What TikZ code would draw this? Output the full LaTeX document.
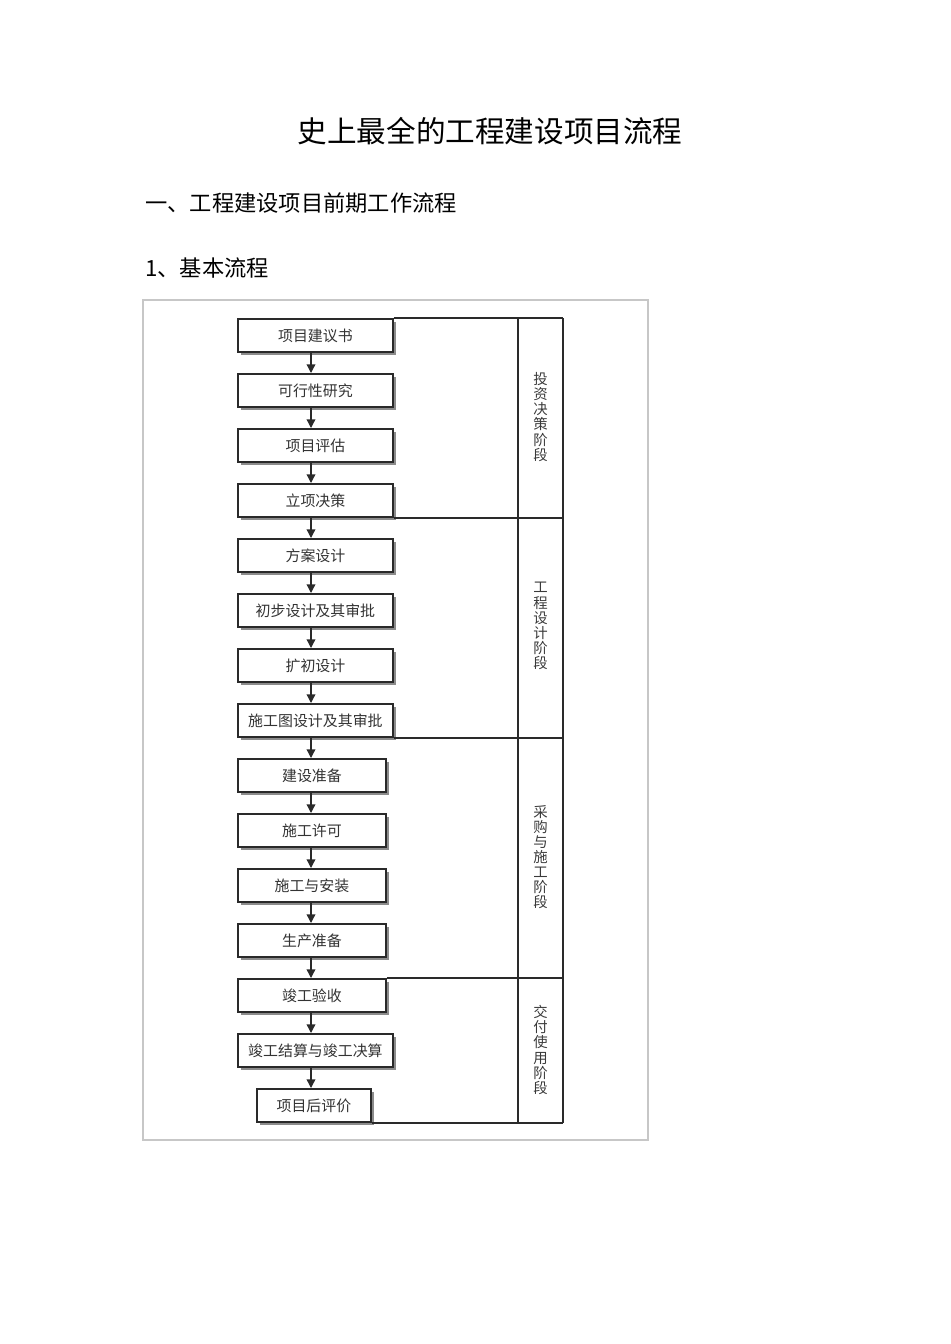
\documentclass[tikz,border=0pt]{standalone}
\usepackage{fontspec}
\newfontfamily\cjk{Noto Sans CJK SC}
\usetikzlibrary{arrows.meta,shadows}
\definecolor{boxline}{HTML}{2A2A2A}
\definecolor{boxtext}{HTML}{333333}
\definecolor{lanetext}{HTML}{3A3A3A}
\tikzset{
  stepbox/.style={draw=boxline, line width=1.4pt, fill=white, anchor=north west,
    minimum height=24.75pt, inner sep=0pt, text=boxtext,
    font=\cjk\fontsize{11.2pt}{12pt}\selectfont,
    drop shadow={shadow xshift=2.2pt, shadow yshift=-2.2pt, fill=black!45, opacity=1}},
  wide/.style={stepbox, minimum width=116.25pt},
  mid/.style={stepbox, minimum width=111pt},
  narrow/.style={stepbox, minimum width=85.5pt},
  arr/.style={draw=boxline, line width=1pt, -{Triangle[length=6.5pt,width=6.5pt]}},
  lane/.style={draw=boxline, line width=1pt},
  lanelabel/.style={align=center, text=lanetext, inner sep=0pt,
    font=\cjk\fontsize{10.8pt}{11.3pt}\selectfont},
}
\begin{document}
\begin{tikzpicture}[x=0.75pt, y=-0.75pt]
\useasboundingbox (0,0) rectangle (950,1344);
% titles
\node[font=\cjk\fontsize{22.2pt}{24pt}\selectfont, inner sep=0pt] (title) at (490,131) {史上最全的工程建设项目流程};
\node[font=\cjk\fontsize{16.7pt}{18pt}\selectfont, anchor=west, inner sep=0pt] (h1) at (145,203) {一、工程建设项目前期工作流程};
\node[font=\cjk\fontsize{16.7pt}{18pt}\selectfont, anchor=west, inner sep=0pt] (h2) at (145,268) {1、基本流程};
% outer frame
\draw[black!22, line width=0.8pt] (143,300) rectangle (648,1140);
% helper coordinates
\coordinate (ax) at (311,0);
\coordinate (R) at (563,0);
\coordinate (L) at (518,0);
% boxes
\node[wide] (b1) at (237,318) {项目建议书};
\node[wide] (b2) at (237,373) {可行性研究};
\node[wide] (b3) at (237,428) {项目评估};
\node[wide] (b4) at (237,483) {立项决策};
\node[wide] (b5) at (237,538) {方案设计};
\node[wide] (b6) at (237,593) {初步设计及其审批};
\node[wide] (b7) at (237,648) {扩初设计};
\node[wide] (b8) at (237,703) {施工图设计及其审批};
\node[mid] (b9) at (237,758) {建设准备};
\node[mid] (b10) at (237,813) {施工许可};
\node[mid] (b11) at (237,868) {施工与安装};
\node[mid] (b12) at (237,923) {生产准备};
\node[mid] (b13) at (237,978) {竣工验收};
\node[wide] (b14) at (237,1033) {竣工结算与竣工决算};
\node[narrow] (b15) at (256,1088) {项目后评价};
% arrows
\foreach \a/\b in {b1/b2,b2/b3,b3/b4,b4/b5,b5/b6,b6/b7,b7/b8,b8/b9,b9/b10,b10/b11,b11/b12,b12/b13,b13/b14,b14/b15}
  \draw[arr] (\a.south -| ax) -- (\b.north -| ax);
% lane column
\draw[lane] (b1.north east -| L) -- (b15.south east -| L);
\draw[lane] (b1.north east -| R) -- (b15.south east -| R);
\draw[lane] (b1.north east) -- (b1.north east -| R);
\draw[lane] (b4.south east) -- (b4.south east -| R);
\draw[lane] (b8.south east) -- (b8.south east -| R);
\draw[lane] (b13.north east) -- (b13.north east -| R);
\draw[lane] (b15.south east) -- (b15.south east -| R);
% lane labels
\node[lanelabel] (l1) at (540.5,417) {投\\资\\决\\策\\阶\\段};
\node[lanelabel] (l2) at (540.5,626) {工\\程\\设\\计\\阶\\段};
\node[lanelabel] (l3) at (540.5,857) {采\\购\\与\\施\\工\\阶\\段};
\node[lanelabel] (l4) at (540.5,1050) {交\\付\\使\\用\\阶\\段};
\end{tikzpicture}
\end{document}
